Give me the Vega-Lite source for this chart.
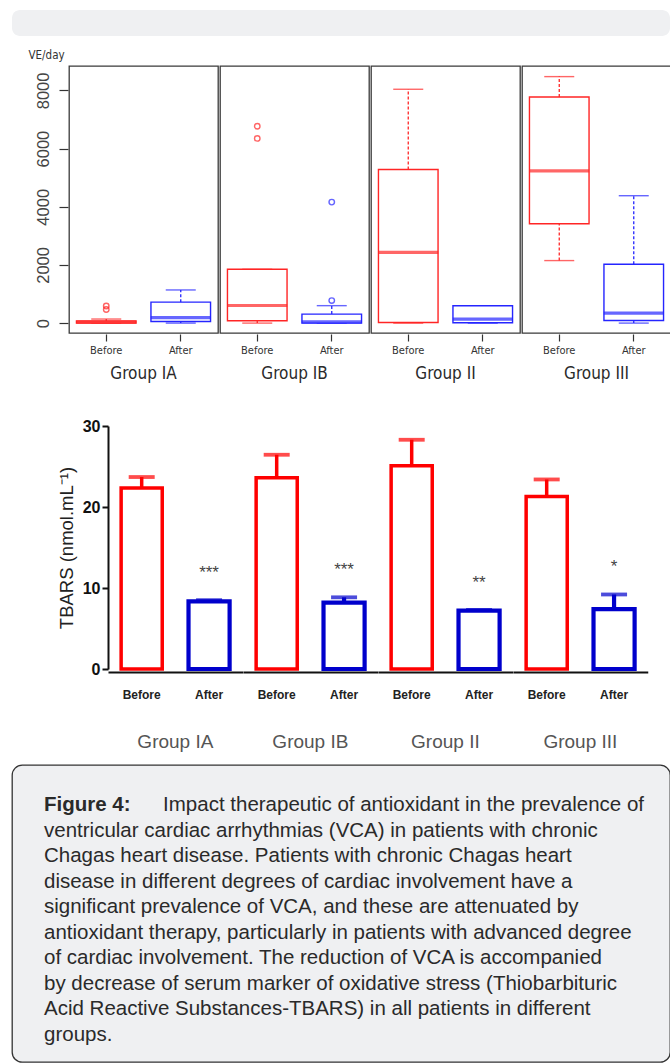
{
  "$schema": "https://vega.github.io/schema/vega-lite/v6.json",
  "background": "white",
  "padding": {"left": 11, "top": 10, "right": 0, "bottom": 0},
  "config": {
    "view": {"stroke": null},
    "axis": {"grid": false},
    "font": "Liberation Sans"
  },
  "spacing": 12,
  "resolve": {"scale": {"x": "independent", "y": "independent", "color": "independent", "stroke": "independent"}},
  "vconcat": [
    {
      "spacing": 36,
      "resolve": {"scale": {"x": "independent", "y": "independent", "color": "independent", "stroke": "independent"}},
      "vconcat": [
        {
          "spacing": 13,
          "resolve": {"scale": {"x": "independent", "y": "independent", "color": "independent", "stroke": "independent"}},
          "vconcat": [
            {
              "width": 658,
              "height": 26,
              "view": {"fill": "#eff0f2", "cornerRadius": 8},
              "data": {"values": [{}]},
              "mark": {"type": "point", "opacity": 0},
              "encoding": {}
            },
            {
              "spacing": 0,
              "resolve": {"scale": {"x": "independent", "y": "independent", "color": "independent", "stroke": "independent"}},
              "hconcat": [
                {
                  "width": 16,
                  "height": 1,
                  "data": {"values": [{}]},
                  "mark": {"type": "point", "opacity": 0},
                  "encoding": {}
                },
                {
                  "data": {"values": [
                    {"kind": "box", "group": "Group IA", "cond": "Before", "lo": 0, "q1": 5, "med": 35, "q3": 75, "hi": 140},
                    {"kind": "box", "group": "Group IA", "cond": "After", "lo": 0, "q1": 55, "med": 190, "q3": 720, "hi": 1140},
                    {"kind": "box", "group": "Group IB", "cond": "Before", "lo": 0, "q1": 80, "med": 605, "q3": 1850, "hi": 1850},
                    {"kind": "box", "group": "Group IB", "cond": "After", "lo": 0, "q1": 0, "med": 40, "q3": 310, "hi": 600},
                    {"kind": "box", "group": "Group II", "cond": "Before", "lo": 0, "q1": 20, "med": 2435, "q3": 5280, "hi": 8040},
                    {"kind": "box", "group": "Group II", "cond": "After", "lo": 0, "q1": 10, "med": 135, "q3": 595, "hi": 595},
                    {"kind": "box", "group": "Group III", "cond": "Before", "lo": 2150, "q1": 3415, "med": 5235, "q3": 7775, "hi": 8475},
                    {"kind": "box", "group": "Group III", "cond": "After", "lo": 0, "q1": 90, "med": 340, "q3": 2025, "hi": 4380},
                    {"kind": "out", "group": "Group IA", "cond": "Before", "val": 590},
                    {"kind": "out", "group": "Group IA", "cond": "Before", "val": 470},
                    {"kind": "out", "group": "Group IB", "cond": "Before", "val": 6770},
                    {"kind": "out", "group": "Group IB", "cond": "Before", "val": 6350},
                    {"kind": "out", "group": "Group IB", "cond": "After", "val": 775},
                    {"kind": "out", "group": "Group IB", "cond": "After", "val": 4160}
                  ]},
                  "facet": {"column": {"field": "group", "type": "nominal", "title": null,
                    "header": {"labelOrient": "bottom", "labelFont": "Liberation Sans Narrow, Arial Narrow, DejaVu Sans Condensed, sans-serif", "labelFontSize": 17, "labelColor": "#2a2a2a", "labelPadding": 11}}},
                  "spacing": 0,
                  "spec": {
                    "width": 149,
                    "height": 267,
                    "view": {"stroke": "#3a3a3a", "strokeWidth": 1.3},
                    "encoding": {
                      "x": {"field": "cond", "type": "nominal", "sort": ["Before", "After"],
                        "scale": {"domain": ["Before", "After"], "paddingInner": 0, "paddingOuter": 0},
                        "axis": {"title": null, "domain": false, "tickSize": 7, "tickColor": "#333", "tickWidth": 1.2, "labelAngle": 0,
                          "labelFont": "Liberation Sans Narrow, Arial Narrow, DejaVu Sans Condensed, sans-serif", "labelFontSize": 11, "labelColor": "#333", "labelPadding": 3}}
                    },
                    "layer": [
                      {
                        "transform": [{"filter": "datum.kind == 'box'"}],
                        "mark": {"type": "rule", "strokeWidth": 1.3, "strokeDash": [3, 2]},
                        "encoding": {
                          "y": {"field": "q3", "type": "quantitative", "scale": {"domain": [-340, 8840], "nice": false, "zero": false},
                            "axis": {"title": "VE/day", "titleAngle": 0, "titleAlign": "left", "titleBaseline": "alphabetic", "titleX": -40, "titleY": -8,
                              "titleFont": "Liberation Sans Narrow, Arial Narrow, DejaVu Sans Condensed, sans-serif", "titleFontSize": 11.5, "titleFontWeight": "normal", "titleColor": "#333",
                              "values": [0, 2000, 4000, 6000, 8000], "format": "d", "domain": false, "tickSize": 9, "tickColor": "#333", "tickWidth": 1.2,
                              "labelAngle": -90, "labelAlign": "center", "labelBaseline": "bottom", "labelFontSize": 16.5, "labelColor": "#444", "labelPadding": 8}},
                          "y2": {"field": "hi"},
                          "color": {"field": "cond", "type": "nominal", "scale": {"domain": ["Before", "After"], "range": ["#ff2525", "#2525ff"]}, "legend": null}
                        }
                      },
                      {
                        "transform": [{"filter": "datum.kind == 'box'"}],
                        "mark": {"type": "rule", "strokeWidth": 1.3, "strokeDash": [3, 2]},
                        "encoding": {
                          "y": {"field": "lo", "type": "quantitative", "scale": {"domain": [-340, 8840], "nice": false, "zero": false}},
                          "y2": {"field": "q1"},
                          "color": {"field": "cond", "type": "nominal", "legend": null}
                        }
                      },
                      {
                        "transform": [{"filter": "datum.kind == 'box'"}],
                        "mark": {"type": "tick", "size": 30, "thickness": 1.4},
                        "encoding": {
                          "y": {"field": "hi", "type": "quantitative", "scale": {"domain": [-340, 8840], "nice": false, "zero": false}},
                          "color": {"field": "cond", "type": "nominal", "legend": null}
                        }
                      },
                      {
                        "transform": [{"filter": "datum.kind == 'box'"}],
                        "mark": {"type": "tick", "size": 30, "thickness": 1.4},
                        "encoding": {
                          "y": {"field": "lo", "type": "quantitative", "scale": {"domain": [-340, 8840], "nice": false, "zero": false}},
                          "color": {"field": "cond", "type": "nominal", "legend": null}
                        }
                      },
                      {
                        "transform": [{"filter": "datum.kind == 'box'"}],
                        "mark": {"type": "bar", "width": {"band": 0.8}, "fill": "white", "strokeWidth": 1.4},
                        "encoding": {
                          "y": {"field": "q1", "type": "quantitative", "scale": {"domain": [-340, 8840], "nice": false, "zero": false}},
                          "y2": {"field": "q3"},
                          "stroke": {"field": "cond", "type": "nominal", "scale": {"domain": ["Before", "After"], "range": ["#ff2525", "#2525ff"]}, "legend": null}
                        }
                      },
                      {
                        "transform": [{"filter": "datum.kind == 'box'"}],
                        "mark": {"type": "tick", "size": 60, "thickness": 3.2},
                        "encoding": {
                          "y": {"field": "med", "type": "quantitative", "scale": {"domain": [-340, 8840], "nice": false, "zero": false}},
                          "color": {"field": "cond", "type": "nominal", "legend": null}
                        }
                      },
                      {
                        "transform": [{"filter": "datum.kind == 'out'"}],
                        "mark": {"type": "point", "shape": "circle", "filled": false, "size": 30, "strokeWidth": 1.4},
                        "encoding": {
                          "y": {"field": "val", "type": "quantitative", "scale": {"domain": [-340, 8840], "nice": false, "zero": false}},
                          "color": {"field": "cond", "type": "nominal", "legend": null}
                        }
                      }
                    ]
                  }
                }
              ]
            }
          ]
        },
        {
          "spacing": 0,
          "resolve": {"scale": {"x": "independent", "y": "independent", "color": "independent", "stroke": "independent"}},
          "hconcat": [
            {
              "width": 45,
              "height": 1,
              "data": {"values": [{}]},
              "mark": {"type": "point", "opacity": 0},
              "encoding": {}
            },
            {
              "data": {"values": [
                {"group": "Group IA", "cond": "Before", "mean": 22.35, "upper": 23.7},
                {"group": "Group IA", "cond": "After", "mean": 8.35, "upper": 8.5, "sig": "***"},
                {"group": "Group IB", "cond": "Before", "mean": 23.6, "upper": 26.45},
                {"group": "Group IB", "cond": "After", "mean": 8.2, "upper": 8.85, "sig": "***"},
                {"group": "Group II", "cond": "Before", "mean": 25.1, "upper": 28.3},
                {"group": "Group II", "cond": "After", "mean": 7.2, "upper": 7.3, "sig": "**"},
                {"group": "Group III", "cond": "Before", "mean": 21.3, "upper": 23.4},
                {"group": "Group III", "cond": "After", "mean": 7.4, "upper": 9.2, "sig": "*"}
              ]},
              "facet": {"column": {"field": "group", "type": "nominal", "title": null,
                "header": {"labelOrient": "bottom", "labelFont": "Liberation Sans", "labelFontSize": 19, "labelColor": "#555", "labelPadding": 33}}},
              "spacing": 0,
              "spec": {
                "width": 134.75,
                "height": 243,
                "encoding": {
                  "x": {"field": "cond", "type": "nominal", "sort": ["Before", "After"],
                    "scale": {"domain": ["Before", "After"], "paddingInner": 0.39, "paddingOuter": 0.195},
                    "axis": {"title": null, "ticks": false, "domainColor": "#111", "domainWidth": 2, "labelAngle": 0,
                      "labelFont": "Liberation Sans", "labelFontSize": 12, "labelFontWeight": "bold", "labelColor": "#222", "labelPadding": 17}}
                },
                "layer": [
                  {
                    "mark": {"type": "bar", "fill": "white"},
                    "encoding": {
                      "y": {"field": "mean", "type": "quantitative", "scale": {"domain": [0, 30], "nice": false},
                        "axis": {"title": "TBARS (nmol.mL⁻¹)", "values": [0, 10, 20, 30], "domainColor": "#111", "domainWidth": 2,
                          "tickColor": "#111", "tickWidth": 2, "tickSize": 6, "labelFontSize": 16, "labelFontWeight": "bold", "labelColor": "#111", "labelPadding": 2,
                          "titleFontSize": 18.5, "titleFontWeight": "normal", "titleColor": "#222", "titlePadding": 6}},
                      "stroke": {"field": "cond", "type": "nominal", "scale": {"domain": ["Before", "After"], "range": ["#ff0000", "#0000cc"]}, "legend": null},
                      "strokeWidth": {"condition": {"test": "datum.cond == 'After'", "value": 4.2}, "value": 3.5}
                    }
                  },
                  {
                    "mark": {"type": "rule"},
                    "encoding": {
                      "y": {"field": "mean", "type": "quantitative", "scale": {"domain": [0, 30], "nice": false}},
                      "y2": {"field": "upper"},
                      "color": {"field": "cond", "type": "nominal", "scale": {"domain": ["Before", "After"], "range": ["#ff0000", "#0000cc"]}, "legend": null},
                      "strokeWidth": {"condition": {"test": "datum.cond == 'After'", "value": 4.2}, "value": 3.5}
                    }
                  },
                  {
                    "mark": {"type": "tick", "size": 26, "thickness": 3.8},
                    "encoding": {
                      "y": {"field": "upper", "type": "quantitative", "scale": {"domain": [0, 30], "nice": false}},
                      "color": {"field": "cond", "type": "nominal", "legend": null}
                    }
                  },
                  {
                    "transform": [{"filter": "datum.sig != null"}],
                    "mark": {"type": "text", "dy": -27, "fontSize": 17, "color": "#444", "baseline": "middle"},
                    "encoding": {
                      "y": {"field": "upper", "type": "quantitative", "scale": {"domain": [0, 30], "nice": false}},
                      "text": {"field": "sig"}
                    }
                  }
                ]
              }
            }
          ]
        }
      ]
    },
    {
      "width": 658,
      "height": 297,
      "view": {"fill": "#eff0f2", "stroke": "#333", "strokeWidth": 1.3, "cornerRadius": 10},
      "data": {"values": [
        {"part": "head", "line": 0, "text": "Figure 4:"},
        {"part": "first", "line": 0, "text": "Impact therapeutic of antioxidant in the prevalence of"},
        {"part": "body", "line": 1, "text": "ventricular cardiac arrhythmias (VCA) in patients with chronic"},
        {"part": "body", "line": 2, "text": "Chagas heart disease. Patients with chronic Chagas heart"},
        {"part": "body", "line": 3, "text": "disease in different degrees of cardiac involvement have a"},
        {"part": "body", "line": 4, "text": "significant prevalence of VCA, and these are attenuated by"},
        {"part": "body", "line": 5, "text": "antioxidant therapy, particularly in patients with advanced degree"},
        {"part": "body", "line": 6, "text": "of cardiac involvement. The reduction of VCA is accompanied"},
        {"part": "body", "line": 7, "text": "by decrease of serum marker of oxidative stress (Thiobarbituric"},
        {"part": "body", "line": 8, "text": "Acid Reactive Substances-TBARS) in all patients in different"},
        {"part": "body", "line": 9, "text": "groups."}
      ]},
      "encoding": {
        "y": {"field": "line", "type": "quantitative", "scale": {"domain": [-1.804, 9.843], "reverse": true, "nice": false, "zero": false}, "axis": null}
      },
      "layer": [
        {
          "transform": [{"filter": "datum.part == 'head'"}],
          "mark": {"type": "text", "align": "left", "baseline": "alphabetic", "fontSize": 20.5, "fontWeight": "bold", "color": "#2a2a2a"},
          "encoding": {
            "x": {"datum": 0, "type": "quantitative", "scale": {"domain": [-0.05333, 1.04333], "nice": false, "zero": false}, "axis": null},
            "text": {"field": "text"}
          }
        },
        {
          "transform": [{"filter": "datum.part == 'first'"}],
          "mark": {"type": "text", "align": "right", "baseline": "alphabetic", "fontSize": 20.5, "color": "#2a2a2a"},
          "encoding": {
            "x": {"datum": 1, "type": "quantitative", "scale": {"domain": [-0.05333, 1.04333], "nice": false, "zero": false}, "axis": null},
            "text": {"field": "text"}
          }
        },
        {
          "transform": [{"filter": "datum.part == 'body'"}],
          "mark": {"type": "text", "align": "left", "baseline": "alphabetic", "fontSize": 20.5, "color": "#2a2a2a"},
          "encoding": {
            "x": {"datum": 0, "type": "quantitative", "scale": {"domain": [-0.05333, 1.04333], "nice": false, "zero": false}, "axis": null},
            "text": {"field": "text"}
          }
        }
      ]
    }
  ]
}
